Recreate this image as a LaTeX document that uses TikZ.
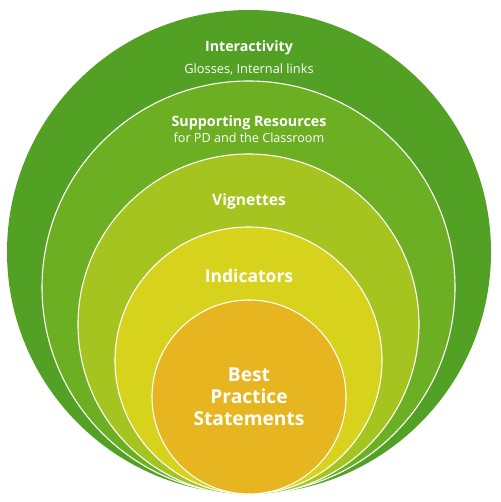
\documentclass[tikz,border=0pt]{standalone}
\usepackage{fontspec}
\setmainfont{Open Sans}
\definecolor{c1}{HTML}{52A125}
\definecolor{c2}{HTML}{6DAF22}
\definecolor{c3}{HTML}{A5C41F}
\definecolor{c4}{HTML}{D7D21C}
\definecolor{c5}{HTML}{E6B51F}
\tikzset{ring/.style={draw=white, line width=1.1pt},
  lbl/.style={text=white, font=\bfseries, align=center, inner sep=0pt},
  sub/.style={text=white, align=center, inner sep=0pt}}
\begin{document}
\begin{tikzpicture}[x=1pt,y=1pt]
\useasboundingbox (0,0) rectangle (500,502);
\fill[white] (0,0) rectangle (500,502);
\fill[c1] (249,250) circle (242);
\filldraw[ring, fill=c2] (248.5,214.5) circle (206.5);
\filldraw[ring, fill=c3] (248.5,177.5) circle (170.5);
\filldraw[ring, fill=c4] (248.5,141.5) circle (133.5);
\filldraw[ring, fill=c5] (249,105) circle (97);
\node[lbl, font=\bfseries\fontsize{14.2}{16}\selectfont] (inter) at (249,454.5) {Interactivity};
\node[sub, font=\fontsize{12.8}{14}\selectfont] (gloss) at (249,433) {Glosses, Internal links};
\node[lbl, font=\bfseries\fontsize{14.3}{16}\selectfont] (supp) at (249,379.5) {Supporting Resources};
\node[sub, font=\fontsize{12.6}{14}\selectfont] (pd) at (249,364) {for PD and the Classroom};
\node[lbl, font=\bfseries\fontsize{15.6}{18}\selectfont] (vig) at (249,300.5) {Vignettes};
\node[lbl, font=\bfseries\fontsize{17.5}{20}\selectfont] (ind) at (249,226) {Indicators};
\node[lbl, font=\bfseries\fontsize{19.2}{22}\selectfont] (best) at (249,105) {Best\\Practice\\Statements};
\end{tikzpicture}
\end{document}
